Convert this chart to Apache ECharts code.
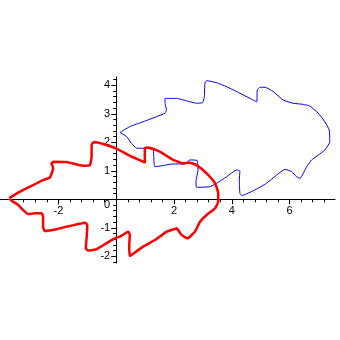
<!DOCTYPE html>
<html>
<head>
<meta charset="utf-8">
<script src="https://cdn.jsdelivr.net/npm/echarts@6/dist/echarts.min.js"></script>
<style>html,body{margin:0;padding:0;background:#fff}#c{width:340px;height:340px}</style>
</head>
<body>
<div id="c"></div>
<script>
// Red closed curve [x, y]
const redCurve = [
  [-3.70,0.04],[-3.33,0.27],[-2.87,0.50],[-2.52,0.68],[-2.29,0.77],[-2.18,1.10],[-2.24,1.26],[-2.16,1.32],
  [-1.72,1.31],[-1.14,1.18],[-0.91,1.20],[-0.85,1.50],[-0.85,1.91],[-0.77,2.01],[-0.45,1.94],[0.01,1.78],
  [0.48,1.52],[0.93,1.32],[0.99,1.28],[0.99,1.79],[1.11,1.82],[1.51,1.67],[1.97,1.38],[2.32,1.26],
  [2.55,1.28],[2.78,1.20],[3.13,0.91],[3.42,0.56],[3.53,0.21],[3.53,-0.08],[3.42,-0.32],[3.13,-0.55],
  [2.90,-0.79],[2.72,-1.14],[2.46,-1.37],[2.26,-1.25],[2.09,-1.02],[2.04,-1.04],[1.74,-1.14],[1.34,-1.43],
  [0.93,-1.66],[0.53,-1.95],[0.47,-1.99],[0.45,-1.66],[0.47,-1.25],[0.42,-1.14],[0.13,-1.31],[-0.05,-1.37],
  [-0.56,-1.68],[-0.68,-1.75],[-0.97,-1.80],[-1.05,-1.72],[-1.02,-1.31],[-1.00,-0.90],[-1.08,-0.82],[-1.31,-0.87],
  [-1.72,-0.96],[-2.06,-1.05],[-2.47,-1.11],[-2.53,-0.96],[-2.53,-0.61],[-2.58,-0.49],[-2.81,-0.49],[-3.04,-0.52],
  [-3.22,-0.38],[-3.39,-0.20],[-3.62,-0.05],[-3.70,0.04]
];
// Blue closed curve [x, y]
const blueCurve = [
  [0.13,2.34],[0.47,2.55],[0.93,2.72],[1.40,2.90],[1.69,3.02],[1.74,3.13],[1.69,3.37],[1.69,3.54],
  [2.09,3.54],[2.55,3.42],[2.78,3.37],[2.99,3.39],[3.05,3.60],[3.07,4.07],[3.13,4.16],[3.47,4.09],
  [3.82,3.95],[4.28,3.72],[4.63,3.54],[4.86,3.42],[4.88,3.84],[4.98,3.93],[5.15,3.93],[5.43,3.78],
  [5.78,3.48],[6.12,3.37],[6.47,3.33],[6.70,3.27],[6.99,3.02],[7.22,2.72],[7.37,2.43],[7.39,2.02],
  [7.22,1.73],[6.99,1.55],[6.76,1.38],[6.59,1.14],[6.36,0.74],[6.24,0.79],[6.07,0.97],[5.84,1.05],
  [5.55,0.85],[5.20,0.56],[4.80,0.33],[4.34,0.13],[4.28,0.21],[4.26,0.68],[4.28,0.99],[4.17,1.03],
  [3.82,0.79],[3.47,0.56],[3.24,0.44],[2.78,0.42],[2.76,0.62],[2.83,1.03],[2.80,1.36],[2.55,1.38],
  [2.38,1.24],[1.97,1.24],[1.34,1.14],[1.30,1.49],[1.28,1.73],[1.05,1.79],[0.71,1.79],[0.53,1.96],
  [0.36,2.20],[0.13,2.34]
];
// Axis ticks
const xMajor = [-2, 0, 2, 4, 6];
const xLabels = [-2, 2, 4, 6];
const xMinor = [-3.6,-3.2,-2.8,-2.4,-1.6,-1.2,-0.8,-0.4,0.4,0.8,1.2,1.6,2.4,2.8,3.2,3.6,4.4,4.8,5.2,5.6,6.4,6.8,7.2];
const yMajor = [-2, -1, 0, 1, 2, 3, 4];
const yLabels = [-2, -1, 0, 1, 2, 3, 4];
const yMinor = [-2.2,-1.8,-1.6,-1.4,-1.2,-0.8,-0.6,-0.4,-0.2,0.2,0.4,0.6,0.8,1.2,1.4,1.6,1.8,2.2,2.4,2.6,2.8,3.2,3.4,3.6,3.8,4.2];

const X_MIN = -4.02, X_MAX = 7.57, Y_MIN = -2.235, Y_MAX = 4.29;
const G_LEFT = 0, G_RIGHT = 5, G_TOP = 77, G_BOTTOM = 77;
const W = 340 - G_LEFT - G_RIGHT, H = 340 - G_TOP - G_BOTTOM;
// distance of the zero lines from the plot edges (axes cross at the origin)
const zeroFromLeft = W * (0 - X_MIN) / (X_MAX - X_MIN);
const zeroFromTop = H * (Y_MAX - 0) / (Y_MAX - Y_MIN);

const font = {fontFamily: 'Liberation Sans, Arial, sans-serif', fontSize: 11, color: '#000'};

const chart = echarts.init(document.getElementById('c'), null, {renderer: 'canvas'});
chart.setOption({
  animation: false,
  backgroundColor: '#fff',
  grid: {left: G_LEFT, right: G_RIGHT, top: G_TOP, bottom: G_BOTTOM, containLabel: false, outerBoundsMode: 'none'},
  xAxis: [
    {type: 'value', min: X_MIN, max: X_MAX, position: 'bottom', offset: -(H - zeroFromTop),
     axisLine: {onZero: false, lineStyle: {color: '#000', width: 1}},
     axisTick: {show: true, length: 5, customValues: xMajor, lineStyle: {color: '#000'}},
     axisLabel: {show: true, margin: 6, customValues: xLabels, hideOverlap: false, showMinLabel: true, showMaxLabel: true, ...font},
     splitLine: {show: false}},
    {type: 'value', min: X_MIN, max: X_MAX, position: 'top', offset: -zeroFromTop,
     axisLine: {show: false, onZero: false},
     axisTick: {show: true, inside: true, length: 3, customValues: xMinor, lineStyle: {color: '#000'}},
     axisLabel: {show: false}, splitLine: {show: false}}
  ],
  yAxis: [
    {type: 'value', min: Y_MIN, max: Y_MAX, position: 'left', offset: -zeroFromLeft,
     axisLine: {onZero: false, lineStyle: {color: '#000', width: 1}},
     axisTick: {show: true, length: 5, customValues: yMajor, lineStyle: {color: '#000'}},
     axisLabel: {show: true, margin: 6, customValues: yLabels, hideOverlap: false, showMinLabel: true, showMaxLabel: true,
       formatter: v => (v === 0 ? '{z|0}' : String(v)),
       rich: {z: {padding: [12, 0, 0, 0], ...font}}, ...font},
     splitLine: {show: false}},
    {type: 'value', min: Y_MIN, max: Y_MAX, position: 'right', offset: -(W - zeroFromLeft),
     axisLine: {show: false, onZero: false},
     axisTick: {show: true, inside: true, length: 3, customValues: yMinor, lineStyle: {color: '#000'}},
     axisLabel: {show: false}, splitLine: {show: false}}
  ],
  series: [
    {type: 'line', data: blueCurve, xAxisIndex: 0, yAxisIndex: 0, showSymbol: false, smooth: 0.15,
     lineStyle: {color: '#0000ff', width: 1}, z: 3},
    {type: 'line', data: redCurve, xAxisIndex: 0, yAxisIndex: 0, showSymbol: false, smooth: 0.15,
     lineStyle: {color: '#ff0000', width: 2.5}, z: 4}
  ]
});
</script>
</body>
</html>
